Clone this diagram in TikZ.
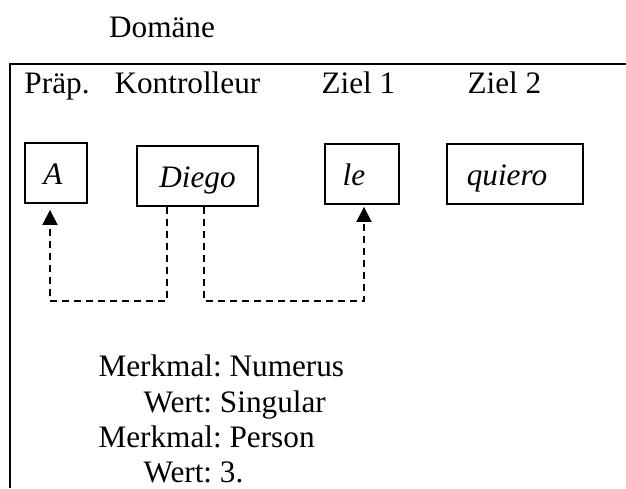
\documentclass[tikz,border=0pt]{standalone}
\usepackage{fontspec}
\setmainfont{Liberation Serif}
\usetikzlibrary{arrows.meta,calc}
\frenchspacing
\begin{document}
\begin{tikzpicture}[x=0.4pt,y=-0.4pt,
  every node/.style={font=\fontsize{12.5}{15}\selectfont, inner sep=0pt},
  lbl/.style={anchor=base west},
  wordbox/.style={draw, line width=0.75pt, minimum height=24pt,
    text height=8.8pt, text depth=0pt,
    font=\fontsize{12.5}{15}\selectfont\itshape},
  link/.style={line width=0.75pt, dash pattern=on 2.8pt off 2pt,
    -{Triangle[length=6pt,width=6pt]}}]
\useasboundingbox (0,0) rectangle (626,488);

% domain title and frame (open at right and bottom)
\node[anchor=base] (dom) at (162,37) {Domäne};
\draw[line width=1pt] (626,64) -- (10,64) -- (10,488);

% column headings
\node[lbl] (h1) at (24,93) {Präp.};
\node[lbl] (h2) at (114,93) {Kontrolleur};
\node[lbl] (h3) at (321,93) {Ziel 1};
\node[lbl] (h4) at (467,93) {Ziel 2};

% word boxes (a trailing kern keeps the word a little left of centre)
\node[wordbox, minimum width=24.8pt] (A) at (56,173) {A\kern2.4pt};
\node[wordbox, minimum width=48.4pt] (D) at (197.5,176) {Diego};
\node[wordbox, minimum width=29.6pt] (L) at (362,174) {le\kern6.4pt};
\node[wordbox, minimum width=54.4pt] (Q) at (515,174) {quiero\kern6.4pt};

% agreement links from the controller
\draw[link] ($(D.south west)+(31,0)$) -- ++(0,94) -| ($(A.south)+(-6,6)$);
\draw[link] ($(D.south west)+(68,0)$) -- ++(0,94) -| ($(L.south)+(2,2)$);

% feature list
\node[lbl] (f1) at (98,376) {Merkmal: Numerus};
\node[lbl] (f2) at (143,412) {Wert: Singular};
\node[lbl] (f3) at (98,447) {Merkmal: Person};
\node[lbl] (f4) at (143,482) {Wert: 3.};
\end{tikzpicture}
\end{document}
